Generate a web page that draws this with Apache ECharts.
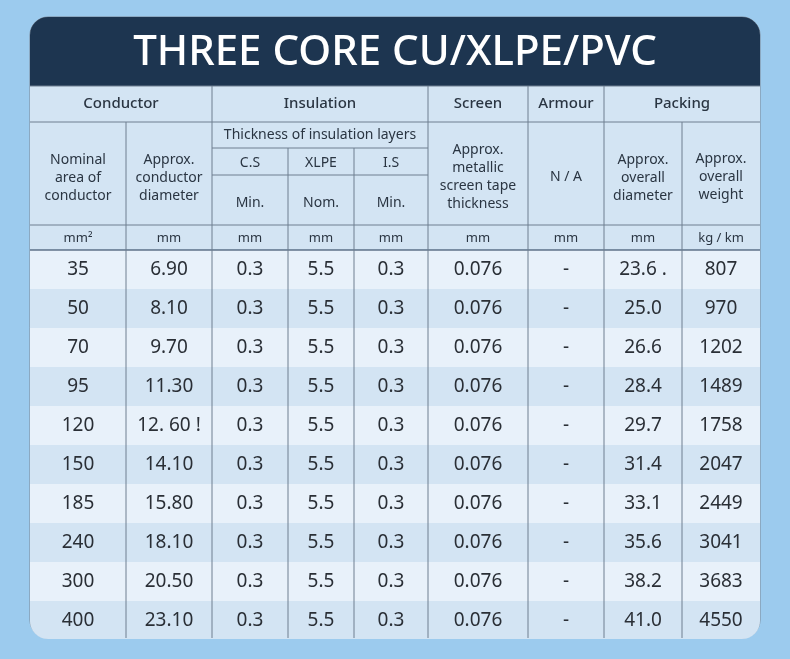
<!DOCTYPE html>
<html>
<head>
  <meta charset="utf-8">
  <title>ECharts</title>
  <script src="https://cdn.jsdelivr.net/npm/echarts@6/dist/echarts.min.js"></script>
</head>
<style>
  * { padding: 0; margin: 0; }
  #main { width: 790px; height: 659px; overflow: hidden; position: absolute; }
</style>
<body>
  <div id="main"></div>
  <script type="text/javascript">
    // table data
    var title = 'THREE CORE CU/XLPE/PVC';
    var groups = ['Conductor', 'Insulation', 'Screen', 'Armour', 'Packing'];
    var units = ['mm²', 'mm', 'mm', 'mm', 'mm', 'mm', 'mm', 'mm', 'kg / km'];
    var area = ['35', '50', '70', '95', '120', '150', '185', '240', '300', '400'];
    var condDia = ['6.90', '8.10', '9.70', '11.30', '12. 60 !', '14.10', '15.80', '18.10', '20.50', '23.10'];
    var cs = ['0.3', '0.3', '0.3', '0.3', '0.3', '0.3', '0.3', '0.3', '0.3', '0.3'];
    var xlpe = ['5.5', '5.5', '5.5', '5.5', '5.5', '5.5', '5.5', '5.5', '5.5', '5.5'];
    var is = ['0.3', '0.3', '0.3', '0.3', '0.3', '0.3', '0.3', '0.3', '0.3', '0.3'];
    var screen = ['0.076', '0.076', '0.076', '0.076', '0.076', '0.076', '0.076', '0.076', '0.076', '0.076'];
    var armour = ['-', '-', '-', '-', '-', '-', '-', '-', '-', '-'];
    var overallDia = ['23.6 .', '25.0', '26.6', '28.4', '29.7', '31.4', '33.1', '35.6', '38.2', '41.0'];
    var weight = ['807', '970', '1202', '1489', '1758', '2047', '2449', '3041', '3683', '4550'];

    var cols = [30, 126, 212, 288, 354, 428, 528, 604, 682, 760];
    var rowTop = 250, rowH = 39;
    var font = 'Noto Sans, sans-serif';
    var line = '#6f7f90';
    var g = [];

    function cx(i) { return (cols[i] + cols[i + 1]) / 2; }
    function txt(x, y, s, size, color, weight, lh) {
      g.push({ type: 'text', x: x, y: y, style: { text: s, fill: color || '#2a3542', font: (weight || 'normal') + ' ' + size + 'px ' + font, align: 'center', verticalAlign: 'middle', lineHeight: lh || size + 3 } });
    }
    function ln(x1, y1, x2, y2, c) {
      g.push({ type: 'line', shape: { x1: x1, y1: y1, x2: x2, y2: y2 }, style: { stroke: c || line, lineWidth: 1 } });
    }

    // card
    g.push({ type: 'rect', shape: { x: 30, y: 17, width: 730, height: 621, r: 18 }, style: { fill: '#e8f1fa', stroke: '#7a8796' } });
    g.push({ type: 'rect', shape: { x: 30, y: 17, width: 730, height: 69, r: [18, 18, 0, 0] }, style: { fill: '#1d3550' } });
    txt(395, 53, title, 42, '#ffffff', '500');
    g.push({ type: 'rect', shape: { x: 30, y: 86, width: 730, height: 164 }, style: { fill: '#d3e4f3' } });

    var data = [area, condDia, cs, xlpe, is, screen, armour, overallDia, weight];
    for (var r = 0; r < area.length; r++) {
      var y = rowTop + r * rowH;
      g.push({ type: 'rect', shape: { x: 30, y: y, width: 730, height: r === area.length - 1 ? rowH - 1 : rowH, r: r === area.length - 1 ? [0, 0, 18, 18] : 0 }, style: { fill: r % 2 ? '#d3e4f3' : '#e8f1fa' } });
      for (var c = 0; c < data.length; c++) txt(cx(c), y + rowH / 2, data[c][r], 19, '#2a2f36');
    }

    // header texts
    var groupSpan = [[0, 2], [2, 5], [5, 6], [6, 7], [7, 9]];
    groupSpan.forEach(function (s, i) { txt((cols[s[0]] + cols[s[1]]) / 2, 104, groups[i], 15, '#2a3542', '500'); });
    txt(cx(0), 178, 'Nominal\narea of\nconductor', 14, null, null, 18);
    txt(cx(1), 178, 'Approx.\nconductor\ndiameter', 14, null, null, 18);
    txt(320, 135, 'Thickness of insulation layers', 14);
    txt(cx(2), 163, 'C.S', 14); txt(cx(3), 163, 'XLPE', 14); txt(cx(4), 163, 'I.S', 14);
    txt(cx(2), 203, 'Min.', 14); txt(cx(3), 203, 'Nom.', 14); txt(cx(4), 203, 'Min.', 14);
    txt(cx(5), 177, 'Approx.\nmetallic\nscreen tape\nthickness', 14, null, null, 18);
    txt(cx(6), 177, 'N / A', 14);
    txt(cx(7), 178, 'Approx.\noverall\ndiameter', 14, null, null, 18);
    txt(cx(8), 177, 'Approx.\noverall\nweight', 14, null, null, 18);
    units.forEach(function (u, i) { txt(cx(i), 238, u, 13); });

    // grid lines
    ln(30, 86, 760, 86); ln(30, 122, 760, 122); ln(212, 148, 428, 148); ln(212, 175, 428, 175);
    ln(30, 225, 760, 225); ln(30, 250, 760, 250, '#1d3550');
    [2, 5, 6, 7].forEach(function (i) { ln(cols[i], 86, cols[i], 638); });
    [1, 8].forEach(function (i) { ln(cols[i], 122, cols[i], 638); });
    [3, 4].forEach(function (i) { ln(cols[i], 148, cols[i], 638); });

    var myChart = echarts.init(document.getElementById('main'));
    myChart.setOption({ backgroundColor: '#9ccbee', graphic: { elements: g } });
  </script>
</body>
</html>
